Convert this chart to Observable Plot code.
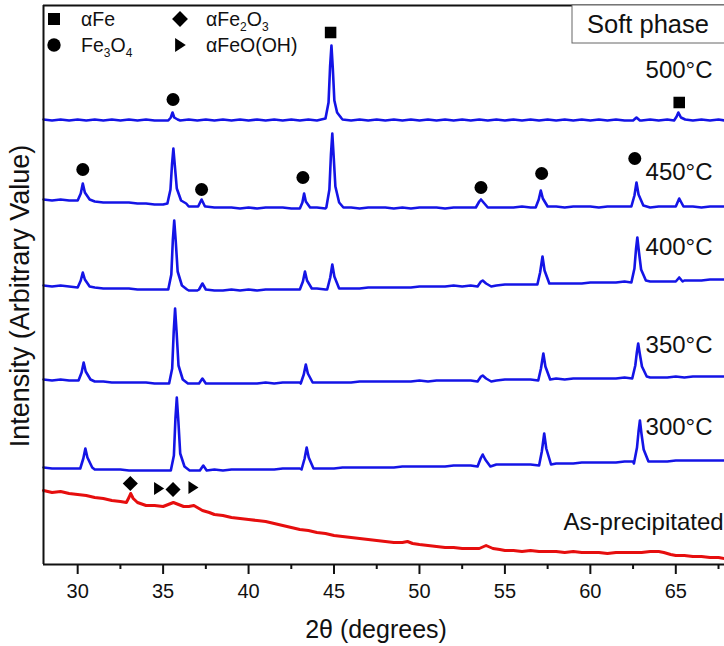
<!DOCTYPE html>
<html><head><meta charset="utf-8">
<script src="https://cdn.jsdelivr.net/npm/d3@7"></script>
<script src="https://cdn.jsdelivr.net/npm/@observablehq/plot@0.6"></script>
<style>
html,body{margin:0;padding:0;background:#fff;}
#chart{width:724px;height:646px;}
svg{font-family:"Liberation Sans",Arial,sans-serif;}
</style></head><body><div id="chart"></div>
<script>
// ---- background sampling grid (2θ, degrees)
const twoTheta = [28,28.5,29,29.5,30,30.5,31,31.5,32,32.5,
  33,33.5,34,34.5,35,35.5,36,36.5,37,37.5,
  38,38.5,39,39.5,40,40.5,41,41.5,42,42.5,
  43,43.5,44,44.5,45,45.5,46,46.5,47,47.5,
  48,48.5,49,49.5,50,50.5,51,51.5,52,52.5,
  53,53.5,54,54.5,55,55.5,56,56.5,57,57.5,
  58,58.5,59,59.5,60,60.5,61,61.5,62,62.5,
  63,63.5,64,64.5,65,65.5,66,66.5,67,67.5,67.85];

// ---- background intensities (arbitrary, stacked)
const bg500 = [445,444,445,444,445,444,445,444,445,444,
  445,444,445,444,444,445,444,445,444,445,
  444,445,444,445,444,445,444,445,444,445,
  444,445,444,445,444,445,444,445,444,445,
  444,445,444,445,444,445,444,445,444,445,
  444,445,444,445,444,445,444,445,444,445,
  444,445,444,445,444,445,444,445,444,445,
  444,445,444,445,444,445,444,445,444,445,444];
const bg450 = [365,364,365,364,364,363,363,362,362,362,
  362,361,361,360,360,359,359,358,358,358,
  357,357,357,356,357,356,357,357,357,356,
  357,356,357,356,357,356,357,356,357,357,
  357,356,357,356,357,357,357,356,357,357,
  357,357,358,357,357,357,358,357,358,357,
  358,357,358,358,358,357,358,358,358,358,
  358,357,358,358,358,358,358,357,358,358,358];
const bg400 = [279,278,279,278,278,277,277,276,276,276,
  276,275,275,275,275,274,275,274,274,274,
  274,274,275,274,275,274,275,275,275,275,
  275,275,276,275,276,276,276,276,277,277,
  277,277,277,277,278,278,278,278,279,278,
  279,279,279,279,280,280,280,280,281,281,
  281,281,281,281,282,282,282,282,283,283,
  283,283,283,283,284,284,284,284,285,285,285];
const bg350 = [185,184,185,184,184,183,183,183,182,182,
  182,182,182,181,181,181,181,181,181,181,
  181,181,181,181,181,181,182,181,182,182,
  182,181,182,182,182,182,182,183,183,183,
  183,183,183,183,184,183,184,184,184,184,
  184,184,185,184,185,185,185,185,185,185,
  186,185,186,186,186,186,186,186,187,187,
  187,187,187,187,188,187,188,188,188,188,188];
const bg300 = [97,96,96,96,96,95,95,95,95,95,
  94,94,94,94,94,94,94,94,94,94,
  95,94,95,95,95,95,95,95,96,96,
  96,96,96,96,96,97,97,97,97,97,
  97,97,98,98,98,98,98,98,99,99,
  99,99,99,100,100,100,100,100,101,101,
  101,101,101,102,102,102,102,102,103,103,
  103,103,103,103,104,104,104,104,104,104,104];

// ---- diffraction peaks [2θ, intensity]
const peaks500 = [
  [[35.3,444],[35.45,447],[35.55,452],[35.65,447],[35.85,445]],
  [[44.5,446],[44.68,462],[44.77,498],[44.85,519],[44.93,496],[45.02,464],[45.18,452],[45.45,446]],
  [[62.5,444],[62.7,447],[62.9,444]],
  [[64.9,444],[65.05,448],[65.15,452],[65.3,447],[65.55,445]]];
const peaks450 = [
  [[30.0,364],[30.18,371],[30.3,381],[30.42,372],[30.7,365]],
  [[35.25,361],[35.43,375],[35.52,400],[35.6,416],[35.69,398],[35.8,376],[36.05,364],[36.35,361]],
  [[37.05,358],[37.25,365],[37.45,358]],
  [[43.0,356],[43.15,362],[43.25,371],[43.35,363],[43.6,357]],
  [[44.55,357],[44.73,375],[44.82,410],[44.9,431],[44.98,408],[45.08,378],[45.3,362],[45.55,357]],
  [[53.3,357],[53.5,363],[53.6,365],[53.75,362],[54.0,357]],
  [[56.8,357],[56.98,365],[57.1,374],[57.22,366],[57.5,358]],
  [[62.4,358],[62.58,369],[62.7,382],[62.82,370],[63.1,359]],
  [[65.0,358],[65.2,366],[65.45,358]]];
const peaks400 = [
  [[30.0,277],[30.18,284],[30.3,292],[30.42,285],[30.7,278]],
  [[35.3,275],[35.48,290],[35.57,325],[35.65,344],[35.74,323],[35.85,293],[36.1,279],[36.4,275]],
  [[37.1,275],[37.3,281],[37.5,275]],
  [[43.0,275],[43.18,283],[43.3,293],[43.42,284],[43.7,276]],
  [[44.6,275],[44.78,287],[44.9,300],[45.02,288],[45.3,276]],
  [[53.4,278],[53.6,283],[53.7,284],[53.9,281],[54.2,278]],
  [[56.9,280],[57.06,292],[57.2,308],[57.32,294],[57.6,281]],
  [[62.4,282],[62.58,296],[62.67,315],[62.75,327],[62.84,313],[62.97,295],[63.25,284]],
  [[65.0,283],[65.2,287],[65.4,283]]];
const peaks350 = [
  [[30.05,184],[30.23,192],[30.35,202],[30.47,193],[30.75,185]],
  [[35.35,181],[35.53,196],[35.62,233],[35.7,256],[35.79,232],[35.9,199],[36.15,185],[36.45,181]],
  [[37.1,181],[37.3,186],[37.5,181]],
  [[43.05,181],[43.23,190],[43.35,200],[43.47,191],[43.75,182]],
  [[53.4,183],[53.6,188],[53.7,189],[53.9,186],[54.2,183]],
  [[56.95,184],[57.11,196],[57.25,211],[57.37,198],[57.65,185]],
  [[62.45,186],[62.63,199],[62.72,212],[62.8,221],[62.89,211],[63.02,198],[63.3,188]]];
const peaks300 = [
  [[30.15,96],[30.33,106],[30.45,116],[30.57,107],[30.85,97]],
  [[35.45,94],[35.63,109],[35.72,146],[35.8,167],[35.89,144],[36.0,111],[36.25,98],[36.55,94]],
  [[37.15,94],[37.35,99],[37.55,94]],
  [[43.1,95],[43.28,106],[43.4,117],[43.52,107],[43.8,96]],
  [[53.4,98],[53.58,106],[53.7,110],[53.85,105],[54.15,98]],
  [[57.0,99],[57.16,113],[57.3,131],[57.42,116],[57.7,100]],
  [[62.55,101],[62.73,117],[62.82,133],[62.9,144],[62.99,131],[63.12,115],[63.4,103]]];

// ---- as-precipitated pattern [2θ, intensity]
const asPrecipitated = [[28,74],[28.5,72],[29,73],[29.5,71],[30,70],[30.5,69],[31,67],[31.5,66],[32,64],[32.5,63],
  [32.85,62],[33.0,67],[33.1,71],[33.25,66],[33.5,62],[34,59],[34.5,59],[35,58],[35.3,60],[35.6,62],[35.9,60],
  [36.2,58],[36.5,58],[36.8,59],[37.0,57],[37.3,54],[37.7,52],[38,50],[38.5,49],[39,47],[39.5,46],[40,45],
  [40.5,44],[41,43],[41.5,41],[42,39],[42.5,37],[43,35],[43.5,34],[44,32],[44.5,31],[45,29],[45.5,28],[46,27],
  [46.5,26],[47,25],[47.5,24],[48,23],[48.5,22],[49,22],[49.3,23],[49.6,21],[50,20],[50.5,19],[51,18],[51.5,17],
  [52,17],[52.5,16],[53,16],[53.5,16],[53.9,19],[54.3,16],[54.7,15],[55,14],[55.5,14],[56,13],[56.5,14],[57,13],
  [57.5,13],[58,13],[58.5,12],[59,13],[59.5,12],[60,12],[60.5,12],[61,11],[61.5,12],[62,12],[62.5,12],[63,12],
  [63.5,13],[64,13],[64.3,12],[64.7,10],[65,9],[65.5,9],[66,8],[66.5,8],[67,7],[67.5,7],[67.85,6]];

// ---- phase markers [2θ, intensity]
const alphaFe = [[44.8,532],[65.2,462]];
const fe3o4 = [[35.58,465],[30.3,395],[37.25,375],[43.18,387],[53.6,377],[57.15,391],[62.6,406]];
const alphaFe2O3 = [[33.08,81],[35.58,75]];
const alphaFeOOH = [[34.74,76],[36.75,77]];

// ---- labels
const tempLabels = ["500°C","450°C","400°C","350°C","300°C"];
const tempLabelY = [494,392,317,219,137];
const asLabel = "As-precipitated";
const asLabelY = 42;
const majorTicks = [30,35,40,45,50,55,60,65];
const minorTicks = [32.5,37.5,42.5,47.5,52.5,57.5,62.5,67.5];
const xTitle = "2θ (degrees)";
const yTitle = "Intensity (Arbitrary Value)";
const boxLabel = "Soft phase";

const blue = "#1414e6", red = "#e60e0e";

function build(bg, peaks) {
  const ranges = peaks.map(p => [p[0][0], p[p.length - 1][0]]);
  const pts = [];
  twoTheta.forEach((x, i) => { if (!ranges.some(([a, b]) => x >= a && x <= b)) pts.push([x, bg[i]]); });
  peaks.forEach(p => p.forEach(q => pts.push(q)));
  pts.sort((a, b) => a[0] - b[0]);
  return pts;
}
const blueRows = [];
[["500", bg500, peaks500], ["450", bg450, peaks450], ["400", bg400, peaks400], ["350", bg350, peaks350], ["300", bg300, peaks300]]
  .forEach(([name, bg, pk]) => build(bg, pk).forEach(([x, y]) => blueRows.push({series: name, x, y})));
const redRows = asPrecipitated.map(([x, y]) => ({x, y}));

const triRight = {draw(ctx, size) { const k = Math.sqrt(size);
  ctx.moveTo(-0.42 * k, -0.6 * k); ctx.lineTo(0.5 * k, 0); ctx.lineTo(-0.42 * k, 0.6 * k); ctx.closePath(); }};

const labelRows = tempLabels.map((t, i) => ({t, y: tempLabelY[i]}));

const plot = Plot.plot({
  width: 724, height: 646,
  marginLeft: 43, marginRight: 0, marginTop: 5, marginBottom: 82,
  style: {fontFamily: "Liberation Sans, Arial, sans-serif", fontSize: "20px", color: "#111", background: "#fff"},
  x: {domain: [28, 67.85]},
  y: {domain: [0, 559], axis: null},
  marks: [
    Plot.axisX({ticks: majorTicks, tickSize: 10, tickPadding: 9, fontSize: 20, strokeWidth: 2, label: null, tickFormat: d => String(d)}),
    Plot.axisX({ticks: minorTicks, tickSize: 5, text: null, strokeWidth: 2, label: null}),
    Plot.line(redRows, {x: "x", y: "y", stroke: red, strokeWidth: 3}),
    Plot.line(blueRows, {x: "x", y: "y", z: "series", stroke: blue, strokeWidth: 2.6}),
    Plot.ruleY([0], {stroke: "#111", strokeWidth: 2}),
    Plot.ruleY([559], {stroke: "#111", strokeWidth: 2}),
    Plot.ruleX([28], {stroke: "#111", strokeWidth: 2}),
    Plot.dot(alphaFe, {x: d => d[0], y: d => d[1], symbol: "square", r: 6.5, fill: "#000", stroke: "none"}),
    Plot.dot(fe3o4, {x: d => d[0], y: d => d[1], symbol: "circle", r: 6.5, fill: "#000", stroke: "none"}),
    Plot.dot(alphaFe2O3, {x: d => d[0], y: d => d[1], symbol: "diamond2", r: 6.8, fill: "#000", stroke: "none"}),
    Plot.dot(alphaFeOOH, {x: d => d[0], y: d => d[1], symbol: triRight, r: 6.2, fill: "#000", stroke: "none"}),
    Plot.text(labelRows, {x: 67.15, y: "y", text: "t", textAnchor: "end", fontSize: 24, fill: "#111"}),
    Plot.text([asLabel], {x: 67.8, y: asLabelY, text: d => d, textAnchor: "end", fontSize: 24, fill: "#111"})
  ]
});
document.getElementById("chart").appendChild(plot);

// ---- extra annotations: titles, legend, box
const svg = d3.select(plot);
svg.append("text").attr("x", 376).attr("y", 638).attr("text-anchor", "middle")
  .attr("font-size", 25).attr("fill", "#111").text(xTitle);
svg.append("text").attr("transform", "translate(29,296) rotate(-90)").attr("text-anchor", "middle")
  .attr("font-size", 27).attr("fill", "#111").text(yTitle);

const box = svg.append("g");
box.append("rect").attr("x", 572).attr("y", 5).attr("width", 160).attr("height", 38)
  .attr("fill", "#fff").attr("stroke", "#666").attr("stroke-width", 1);
box.append("text").attr("x", 587).attr("y", 33).attr("text-anchor", "start")
  .attr("font-size", 25.5).attr("fill", "#111").text(boxLabel);

const leg = svg.append("g").attr("fill", "#000");
const sym = (type, size) => d3.symbol().type(type).size(size)();
leg.append("path").attr("d", sym(d3.symbolSquare, 144)).attr("transform", "translate(54,19)");
leg.append("path").attr("d", sym(d3.symbolDiamond2, 160)).attr("transform", "translate(180,19)");
leg.append("path").attr("d", sym(d3.symbolCircle, 140)).attr("transform", "translate(54,45)");
leg.append("path").attr("d", sym(triRight, 135)).attr("transform", "translate(180,45)");
function legText(x, y, parts) {
  const t = leg.append("text").attr("x", x).attr("y", y).attr("text-anchor", "start")
    .attr("font-size", 19.5).attr("fill", "#111");
  let wasSub = false;
  parts.forEach(([s, sub]) => {
    const ts = t.append("tspan").text(s);
    if (sub) { ts.attr("font-size", 12).attr("dy", wasSub ? 0 : 5); wasSub = true; }
    else { ts.attr("dy", wasSub ? -5 : 0); wasSub = false; }
  });
}
legText(81, 26, [["αFe"]]);
legText(206, 26, [["αFe"], ["2", 1], ["O"], ["3", 1]]);
legText(81, 52, [["Fe"], ["3", 1], ["O"], ["4", 1]]);
legText(206, 52, [["αFeO(OH)"]]);
</script></body></html>
